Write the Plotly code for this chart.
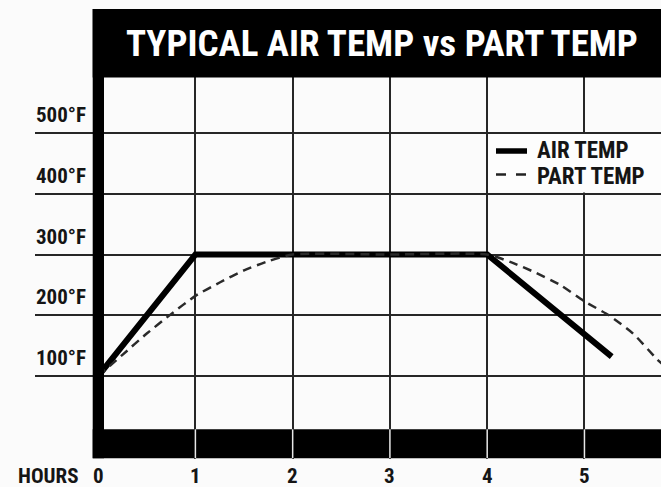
import plotly.graph_objects as go

# ---------------- data ----------------
title_text = "TYPICAL AIR TEMP vs PART TEMP"
series_names = ["AIR TEMP", "PART TEMP"]
hours = [0, 1, 2, 3, 4, 5]
hour_labels = ["0", "1", "2", "3", "4", "5"]
x_title = "HOURS"
temp_ticks = [100, 200, 300, 400, 500]
temp_labels = ["100°F", "200°F", "300°F", "400°F", "500°F"]

air_x = [0, 1, 4, 5.28]
air_y = [100, 300, 300, 132]

part_x = [0, 0.25, 0.5, 0.75, 1.0, 1.25, 1.5, 1.75, 2.0, 3.0, 4.0,
          4.25, 4.5, 4.75, 5.0, 5.25, 5.5, 5.75, 5.8]
part_y = [100, 135, 170, 202, 232, 254, 274, 289, 300, 300, 300,
          287, 270, 250, 223, 200, 170, 127, 120]

# ---------------- geometry ----------------
W, H = 661, 487
ML, MR, MT, MB = 35, 0, 9, 28
PW, PH = W - ML - MR, H - MT - MB
XR = [-0.649, 5.787]
YR = [-36.3, 703.8]


def px_x(p):
    return XR[0] + (p - ML) / PW * (XR[1] - XR[0])


def px_y(p):
    return YR[1] - (p - MT) / PH * (YR[1] - YR[0])


def paper_y(p):
    return 1 - (p - MT) / PH


COND = "Roboto Condensed, Open Sans Condensed, DejaVu Sans Condensed, Liberation Sans, sans-serif"
INK = "#151515"
GRID = "#262626"
BLACK = "#000000"

fig = go.Figure()
fig.add_trace(go.Scatter(x=air_x, y=air_y, mode="lines", name=series_names[0],
                         line=dict(color=BLACK, width=6), showlegend=False,
                         hoverinfo="skip"))
fig.add_trace(go.Scatter(x=part_x, y=part_y, mode="lines", name=series_names[1],
                         line=dict(color="#2a2a2a", width=2.5, dash="9px,6px",
                                   shape="spline", smoothing=0.6),
                         showlegend=False, hoverinfo="skip"))

shapes = []
# title bar
shapes.append(dict(type="rect", xref="x", yref="y", layer="above",
                   x0=px_x(92.7), x1=XR[1] + 1, y0=px_y(77.5), y1=YR[1] + 5,
                   fillcolor=BLACK, line=dict(width=0)))
# left bar
shapes.append(dict(type="rect", xref="x", yref="y", layer="above",
                   x0=px_x(92.7), x1=px_x(104), y0=px_y(458.3), y1=YR[1] + 5,
                   fillcolor=BLACK, line=dict(width=0)))
# bottom bar
shapes.append(dict(type="rect", xref="x", yref="y", layer="above",
                   x0=px_x(92.7), x1=XR[1] + 1, y0=px_y(458.3), y1=px_y(429.3),
                   fillcolor=BLACK, line=dict(width=0)))
# light separators through the bottom bar
for h in hours[1:]:
    shapes.append(dict(type="line", xref="x", yref="y", layer="above",
                       x0=h, x1=h, y0=px_y(458.3), y1=px_y(429.3),
                       line=dict(color="#e8e8e8", width=1.5)))
# legend box (white, inside the grid cell block)
dxp = (XR[1] - XR[0]) / PW
dyp = (YR[1] - YR[0]) / PH
shapes.append(dict(type="rect", xref="x", yref="y", layer="above",
                   x0=hours[4] + 1.2 * dxp, x1=XR[1] + 1,
                   y0=temp_ticks[3] + 1.2 * dyp, y1=temp_ticks[4] - 1.2 * dyp,
                   fillcolor="#fdfdfd", line=dict(width=0)))
# legend samples
shapes.append(dict(type="line", xref="x", yref="y", layer="above",
                   x0=px_x(496), x1=px_x(527), y0=px_y(151), y1=px_y(151),
                   line=dict(color=BLACK, width=5.5)))
shapes.append(dict(type="line", xref="x", yref="y", layer="above",
                   x0=px_x(496), x1=px_x(527), y0=px_y(174.5), y1=px_y(174.5),
                   line=dict(color="#222222", width=2.5, dash="10px,10px")))

annotations = []
# title
annotations.append(dict(text=title_text, xref="x", yref="y",
                        x=px_x(381.5), y=px_y(43),
                        xanchor="center", yanchor="middle", showarrow=False,
                        font=dict(family=COND, size=37, color="#ffffff", weight="bold")))
# y labels
for v, lab in zip(temp_ticks, temp_labels):
    annotations.append(dict(text=lab, xref="x", yref="y", x=px_x(88), y=v,
                            xanchor="right", yanchor="middle", yshift=18,
                            showarrow=False,
                            font=dict(family=COND, size=21, color=INK, weight="bold")))
# x labels
for h, lab in zip(hours, hour_labels):
    annotations.append(dict(text=lab, xref="x", yref="paper", x=h, y=paper_y(476),
                            xanchor="center", yanchor="middle", showarrow=False,
                            font=dict(family=COND, size=21, color=INK, weight="bold")))
annotations.append(dict(text=x_title, xref="x", yref="paper", x=px_x(81), y=paper_y(476),
                        xanchor="right", yanchor="middle", showarrow=False,
                        font=dict(family=COND, size=21, color=INK, weight="bold")))
# legend texts
for name, yp in zip(series_names, [150, 176]):
    annotations.append(dict(text=name, xref="x", yref="y", x=px_x(535), y=px_y(yp),
                            xanchor="left", yanchor="middle", showarrow=False,
                            font=dict(family=COND, size=23, color=INK, weight="bold")))

fig.update_layout(
    width=W, height=H,
    margin=dict(l=ML, r=MR, t=MT, b=MB, pad=0),
    paper_bgcolor="#fbfbfb", plot_bgcolor="#fbfbfb",
    shapes=shapes, annotations=annotations,
    xaxis=dict(range=XR, tickvals=hours[1:], showticklabels=False, ticks="",
               showgrid=True, gridcolor=GRID, gridwidth=2, zeroline=False,
               showline=False, fixedrange=True),
    yaxis=dict(range=YR, tickvals=temp_ticks, showticklabels=False, ticks="",
               showgrid=True, gridcolor=GRID, gridwidth=2, zeroline=False,
               showline=False, fixedrange=True),
)

fig.write_html("out.html", config={"displayModeBar": False},
               post_script="document.body.style.margin='0px';")
